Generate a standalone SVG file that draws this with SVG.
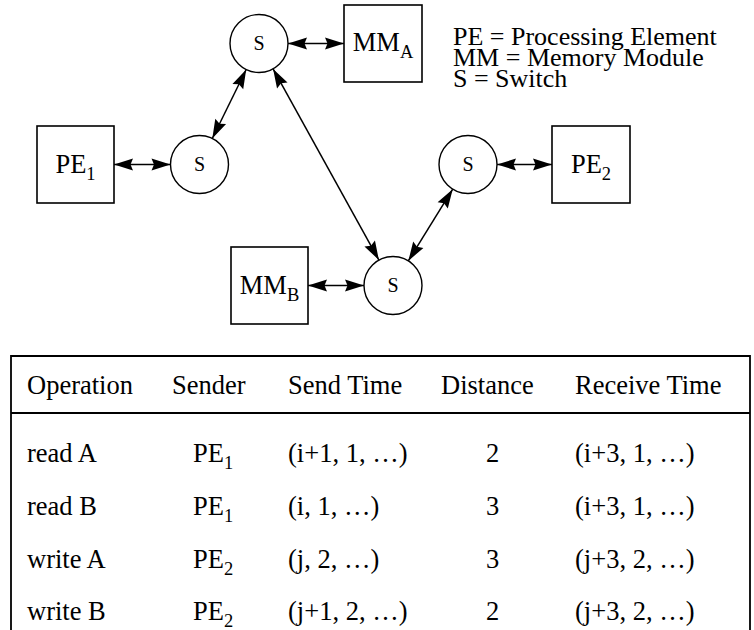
<svg xmlns="http://www.w3.org/2000/svg" width="754" height="630" viewBox="0 0 754 630">
<style>
text{font-family:"Liberation Serif","Times New Roman",serif;fill:#000}
.lbl{font-size:26.5px}
.leg{font-size:26px}
.sub{font-size:18.5px}
.sw{font-size:20px}
.box{fill:#fff;stroke:#000;stroke-width:1.6}
.node circle{fill:#fff;stroke:#000;stroke-width:1.4}
.conn line{stroke:#000;stroke-width:1.5;marker-start:url(#ah);marker-end:url(#ah)}
.tbl{fill:none;stroke:#000;stroke-width:1.8}
</style>
<defs>
<marker id="ah" markerUnits="userSpaceOnUse" markerWidth="22" markerHeight="14" refX="19" refY="6" orient="auto-start-reverse" overflow="visible">
<path d="M0,0 L19,6 L0,12 L2.5,6 z" fill="#000"/>
</marker>
</defs>
<rect width="754" height="630" fill="#fff"/>

<g id="connectors" class="conn">
<line x1="288" y1="43.5" x2="344" y2="43.5"/>
<line x1="114" y1="164.5" x2="170.5" y2="164.5"/>
<line x1="212.3" y1="138.5" x2="246.2" y2="69.5"/>
<line x1="273.1" y1="68.9" x2="378.9" y2="260.1"/>
<line x1="452.7" y1="189.2" x2="408.3" y2="260.9"/>
<line x1="497" y1="164.5" x2="552" y2="164.5"/>
<line x1="308" y1="285.5" x2="364" y2="285.5"/>
</g>

<g id="switch-top" class="node">
<circle cx="259" cy="43.5" r="29"/>
<text class="sw" x="259" y="50" text-anchor="middle">S</text>
</g>
<g id="switch-left" class="node">
<circle cx="199.5" cy="164.5" r="29"/>
<text class="sw" x="199.5" y="171" text-anchor="middle">S</text>
</g>
<g id="switch-right" class="node">
<circle cx="468" cy="164.5" r="29"/>
<text class="sw" x="468" y="171" text-anchor="middle">S</text>
</g>
<g id="switch-bottom" class="node">
<circle cx="393" cy="285.5" r="29"/>
<text class="sw" x="393" y="292" text-anchor="middle">S</text>
</g>

<g id="mm-a" class="node">
<rect class="box" x="344" y="5" width="78" height="77"/>
<text class="lbl" x="383" y="51" text-anchor="middle">MM<tspan class="sub" dy="7">A</tspan></text>
</g>
<g id="pe-1" class="node">
<rect class="box" x="37" y="126" width="77" height="77"/>
<text class="lbl" x="75.5" y="173" text-anchor="middle">PE<tspan class="sub" dy="7">1</tspan></text>
</g>
<g id="pe-2" class="node">
<rect class="box" x="552" y="126" width="78" height="77"/>
<text class="lbl" x="591" y="173" text-anchor="middle">PE<tspan class="sub" dy="7">2</tspan></text>
</g>
<g id="mm-b" class="node">
<rect class="box" x="231" y="247" width="77" height="77"/>
<text class="lbl" x="269.5" y="294" text-anchor="middle">MM<tspan class="sub" dy="7">B</tspan></text>
</g>

<g id="legend">
<text class="leg" x="453" y="45">PE = Processing Element</text>
<text class="leg" x="453" y="66">MM = Memory Module</text>
<text class="leg" x="453" y="87">S = Switch</text>
</g>

<g id="table">
<path class="tbl" d="M11,632 V356 H750 V632"/>
<line class="tbl" x1="11" y1="413" x2="750" y2="413"/>
<g class="lbl">
<text x="27" y="394">Operation</text>
<text x="172" y="394">Sender</text>
<text x="288" y="394">Send Time</text>
<text x="441" y="394">Distance</text>
<text x="575" y="394">Receive Time</text>

<text x="27" y="462">read A</text>
<text x="193" y="462">PE<tspan class="sub" dy="7">1</tspan></text>
<text x="288" y="462">(i+1, 1, …)</text>
<text x="486" y="462">2</text>
<text x="575" y="462">(i+3, 1, …)</text>

<text x="27" y="515">read B</text>
<text x="193" y="515">PE<tspan class="sub" dy="7">1</tspan></text>
<text x="288" y="515">(i, 1, …)</text>
<text x="486" y="515">3</text>
<text x="575" y="515">(i+3, 1, …)</text>

<text x="27" y="568">write A</text>
<text x="193" y="568">PE<tspan class="sub" dy="7">2</tspan></text>
<text x="288" y="568">(j, 2, …)</text>
<text x="486" y="568">3</text>
<text x="575" y="568">(j+3, 2, …)</text>

<text x="27" y="620">write B</text>
<text x="193" y="620">PE<tspan class="sub" dy="7">2</tspan></text>
<text x="288" y="620">(j+1, 2, …)</text>
<text x="486" y="620">2</text>
<text x="575" y="620">(j+3, 2, …)</text>
</g>
</g>
</svg>
